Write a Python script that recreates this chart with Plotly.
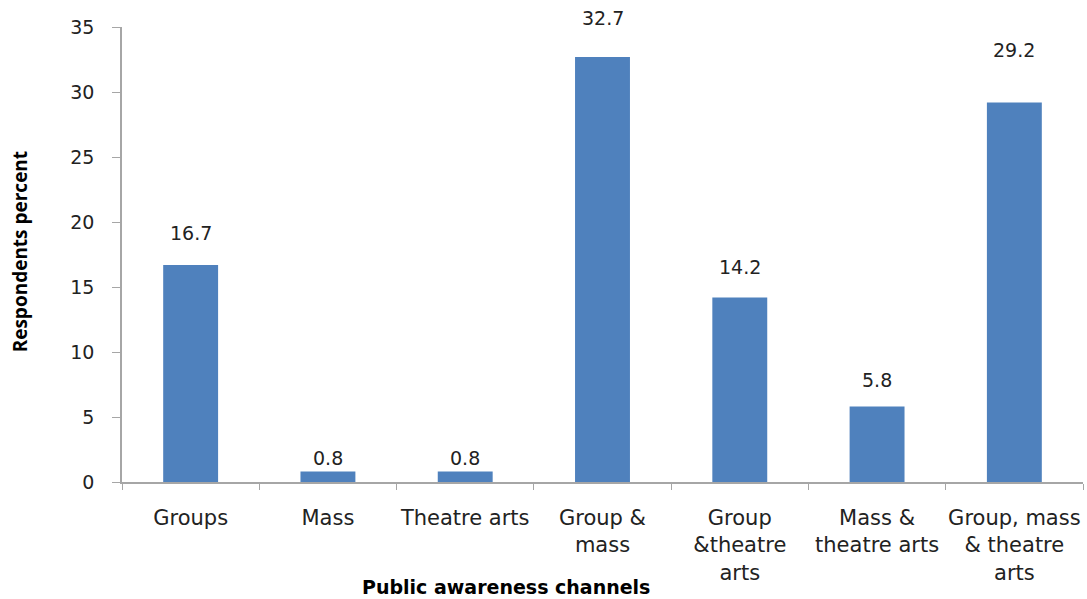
import plotly.graph_objects as go

categories = ["Groups", "Mass", "Theatre arts", "Group &<br>mass", "Group<br>&theatre<br>arts",
              "Mass &<br>theatre arts", "Group, mass<br>& theatre<br>arts"]
values = [16.7, 0.8, 0.8, 32.7, 14.2, 5.8, 29.2]
label_shift_px = [32, 14, 14, 39, 30, 27, 52]
y_ticks = [0, 5, 10, 15, 20, 25, 30, 35]

FONT = "DejaVu Sans"
fig = go.Figure(go.Bar(x=categories, y=values, marker_color="#4F81BD",
                       marker_line_width=0, hoverinfo="skip"))

for c, v, s in zip(categories, values, label_shift_px):
    fig.add_annotation(x=c, y=v, text=str(v), showarrow=False, yanchor="middle",
                       yshift=s, font=dict(family=FONT, size=19, color="#222"))

fig.add_annotation(xref="paper", yref="paper", x=(506 - 122) / (1083 - 122), y=-0.23,
                   yanchor="middle", text="<b>Public awareness channels</b>", showarrow=False,
                   font=dict(family=FONT, size=19, color="black"))
fig.add_annotation(xref="paper", yref="paper", x=-0.106, y=0.505, textangle=-90,
                   xanchor="center", text="<b>Respondents percent</b>", showarrow=False,
                   font=dict(family="Open Sans", size=19, color="black"))

fig.update_layout(
    width=1087, height=599, margin=dict(l=122, r=4, t=27, b=117, autoexpand=False),
    plot_bgcolor="white", paper_bgcolor="white", bargap=0.6, showlegend=False,
    font=dict(family=FONT, size=19, color="#222"),
    xaxis=dict(showline=True, linecolor="#a6a6a6", linewidth=1.5, ticks="outside",
               tickson="boundaries", ticklen=6, tickcolor="#a6a6a6", showgrid=False,
               tickfont=dict(size=21), ticklabelstandoff=16, tickangle=0, automargin=False),
    yaxis=dict(range=[0, 35], tickvals=y_ticks, showline=True, linecolor="#a6a6a6",
               linewidth=1.5, ticks="outside", ticklen=8, tickcolor="#a6a6a6",
               showgrid=False, zeroline=False, tickfont=dict(size=19), ticklabelstandoff=14,
               automargin=False),
)
fig.write_html("out.html")
